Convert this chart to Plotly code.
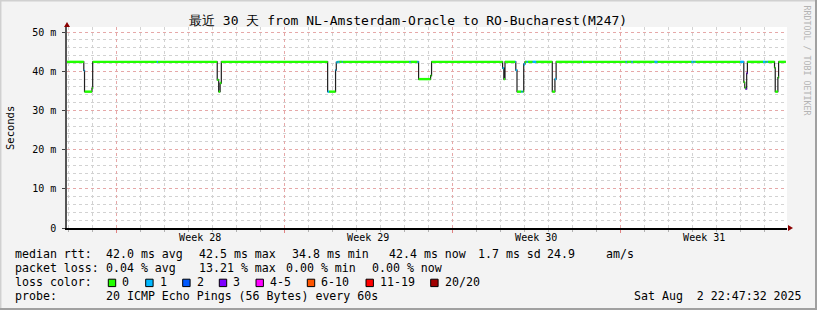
import plotly.graph_objects as go

# ---------------- data ----------------
# time in days since start of the 30-day window, median rtt (ms), lost pings of 20
t_days = [0.00, 0.70, 0.73, 1.04, 1.07, 3.74, 3.79, 6.26, 6.32, 6.38, 6.43,
          10.86, 10.92, 11.19, 11.22, 11.27, 11.30, 11.35, 11.45, 11.48,
          14.27, 14.31, 14.60, 14.65, 15.15, 15.19,
          18.15, 18.20, 18.25, 18.67, 18.70, 18.75, 18.93, 18.98, 19.03, 19.08,
          19.15, 19.20, 19.40, 19.55, 20.22, 20.33, 20.38,
          21.46, 21.50, 23.28, 23.32, 23.52, 23.57, 24.48, 24.60,
          26.02, 26.10, 26.14, 26.18, 28.05, 28.20, 28.24, 28.28, 28.32, 28.35,
          29.00, 29.10, 29.15, 29.20, 29.48, 29.51, 29.62, 29.65]
median_ms = [42.4, 40.2, 34.8, 35.7, 42.4, 42.4, 42.4, 37.8, 34.8, 37.0, 42.4,
             34.8, 34.8, 40.3, 42.3, 42.4, 42.4, 42.4, 42.4, 42.4,
             42.4, 42.4, 42.4, 38.0, 38.9, 42.4,
             40.8, 38.0, 42.4, 42.4, 40.3, 34.8, 34.8, 34.8, 41.8, 42.4,
             42.4, 42.4, 42.4, 42.4, 34.8, 38.0, 42.4,
             42.4, 42.4, 42.4, 42.4, 42.4, 42.4, 42.4, 42.4,
             42.4, 42.4, 42.4, 42.4, 42.4, 37.2, 35.8, 35.5, 39.5, 42.4,
             42.4, 42.4, 42.4, 42.4, 40.9, 34.8, 38.4, 42.4]
loss_pings = [0, 1, 0, 0, 0, 1, 0, 0, 0, 0, 0,
              1, 0, 1, 1, 0, 1, 0, 1, 0,
              1, 0, 1, 0, 0, 0,
              1, 0, 0, 1, 1, 0, 1, 0, 1, 0,
              1, 0, 1, 0, 0, 1, 0,
              1, 0, 1, 0, 1, 0, 1, 0,
              1, 0, 1, 0, 1, 0, 0, 3, 3, 0,
              1, 0, 1, 0, 0, 0, 0, 0]
t_end = 29.95

loss_labels = ["0", "1", "2", "3", "4-5", "6-10", "11-19", "20/20"]
loss_min = [0, 1, 2, 3, 4, 6, 11, 20]
loss_colors = ["#22ff00", "#00b8ff", "#0059ff", "#7e00ff", "#ff00ff", "#ff5500", "#ff0000", "#a00000"]

week_bounds = [2.05, 9.05, 16.05, 23.05]
week_centers = [5.55, 12.55, 19.55, 26.55]
week_labels = ["Week 28", "Week 29", "Week 30", "Week 31"]
y_ticks = [0, 10, 20, 30, 40, 50]
y_tick_text = ["0", "10 m", "20 m", "30 m", "40 m", "50 m"]

title_text = "最近 30 天 from NL-Amsterdam-Oracle to RO-Bucharest(M247)"
stats_rtt = ["median rtt:", "42.0 ms avg", "42.5 ms max", "34.8 ms min", "42.4 ms now", "1.7 ms sd", "24.9", "am/s"]
stats_loss = ["packet loss:", "0.04 % avg", "13.21 % max", "0.00 % min", "0.00 % now"]
probe_text = ["probe:", "20 ICMP Echo Pings (56 Bytes) every 60s"]
date_text = "Sat Aug  2 22:47:32 2025"

# ---------------- layout geometry (pixels) ----------------
W, H = 817, 310
L, R, T, B = 67, 30, 27, 82
PW, PH = W - L - R, H - T - B
MONO = "DejaVu Sans Mono"
PAD = 3  # annotation internal padding


def px(x):
    return (x - L) / PW


def py(y):
    return (H - B - y) / PH


def color_for(loss):
    idx = 0
    for i, m in enumerate(loss_min):
        if loss >= m:
            idx = i
    return loss_colors[idx]


fig = go.Figure()

# black step line (vertical transitions)
fig.add_trace(go.Scatter(
    x=t_days + [t_end], y=median_ms + [median_ms[-1]], mode="lines",
    line=dict(color="#202020", width=1.2, shape="hv"), hoverinfo="skip", showlegend=False))

# loss-coloured horizontal segments
t_next = t_days[1:] + [t_end]
groups = {}
for t0, t1, v, lo in zip(t_days, t_next, median_ms, loss_pings):
    c = color_for(lo)
    gx, gy = groups.setdefault(c, ([], []))
    gx += [t0, t1, None]
    gy += [v, v, None]
for c, (gx, gy) in groups.items():
    fig.add_trace(go.Scatter(x=gx, y=gy, mode="lines", line=dict(color=c, width=2.4),
                             hoverinfo="skip", showlegend=False))

# dummy trace for the label axis
fig.add_trace(go.Scatter(x=[None], y=[None], xaxis="x2", showlegend=False, hoverinfo="skip"))

major_grid = "#e6a8a8"
minor_grid = "#d2d2d2"

fig.update_layout(
    width=W, height=H, margin=dict(l=L, r=R, t=T, b=B),
    paper_bgcolor="#f3f3f3", plot_bgcolor="#ffffff",
    font=dict(family=MONO, size=10, color="#000000"),
    xaxis=dict(range=[0, 30], tickvals=week_bounds, showticklabels=False,
               showgrid=True, gridcolor=major_grid, griddash="dot", gridwidth=1,
               ticks="outside", ticklen=3, tickcolor="#e08080",
               minor=dict(tick0=0.05, dtick=1, showgrid=True, gridcolor=minor_grid,
                          griddash="dot", ticks="outside", ticklen=2, tickcolor="#b0b0b0"),
               showline=True, linecolor="#000000", linewidth=1.5, zeroline=False, fixedrange=True),
    xaxis2=dict(range=[0, 30], overlaying="x", anchor="y", side="bottom",
                tickvals=week_centers, ticktext=week_labels, showgrid=False, ticks="",
                tickfont=dict(family=MONO, size=10), ticklabelstandoff=2, zeroline=False),
    yaxis=dict(range=[0, 51.3], tickvals=y_ticks, ticktext=y_tick_text,
               showgrid=True, gridcolor=major_grid, griddash="dot", gridwidth=1,
               minor=dict(tick0=0, dtick=2, showgrid=True, gridcolor=minor_grid, griddash="dot"),
               ticks="outside", ticklen=3, tickcolor="#404040",
               tickfont=dict(family=MONO, size=10), ticklabelstandoff=4,
               showline=True, linecolor="#555555", linewidth=1.5, zeroline=False, fixedrange=True),
)

ann = []
ann.append(dict(text=title_text, x=px(408), y=py(21), xref="paper", yref="paper",
                xanchor="center", yanchor="middle", showarrow=False,
                font=dict(family=MONO, size=13, color="#000000")))
ann.append(dict(text="Seconds", x=px(10), y=py(128), xref="paper", yref="paper",
                xanchor="center", yanchor="middle", showarrow=False, textangle=-90,
                font=dict(family=MONO, size=10.5, color="#000000")))
ann.append(dict(text="RRDTOOL / TOBI OETIKER", x=px(806.5), y=py(60), xref="paper", yref="paper",
                xanchor="center", yanchor="middle", showarrow=False, textangle=90,
                font=dict(family=MONO, size=8.3, color="#b4b4b4")))

LF = dict(family=MONO, size=11.6, color="#000000")


def put(text, x, y, anchor="left"):
    xx = x - PAD if anchor == "left" else x + PAD
    ann.append(dict(text=text, x=px(xx), y=py(y), xref="paper", yref="paper",
                    xanchor=anchor, yanchor="middle", showarrow=False, font=LF))


for s, x in zip(stats_rtt, [16, 107.3, 200, 293.3, 390, 479.3, 547.7, 607.3]):
    put(s, x, 254.3)
for s, x in zip(stats_loss, [16, 107.3, 200, 286.7, 372.7]):
    put(s, x, 268.3)
put("loss color:", 16, 282.3)
shapes = []
for lab, c, x in zip(loss_labels, loss_colors, [108.3, 145.7, 182.7, 219.3, 256, 307.3, 366, 430.7]):
    shapes.append(dict(type="rect", xref="paper", yref="paper", x0=px(x), x1=px(x + 7.4),
                       y0=py(286.6), y1=py(279.2), fillcolor=c, line=dict(color="#000000", width=1)))
    put(lab, x + 15, 282.3)
put(probe_text[0], 16, 296.3)
put(probe_text[1], 107.3, 296.3)
put(date_text, 800.5, 296.3, anchor="right")

# axis arrows
shapes.append(dict(type="path", xref="paper", yref="paper", xsizemode="pixel", ysizemode="pixel",
                   xanchor=0, yanchor=py(27), path="M -3,0 L 3,0 L 0,5 Z",
                   fillcolor="#8b0000", line=dict(width=0)))
shapes.append(dict(type="path", xref="paper", yref="paper", xsizemode="pixel", ysizemode="pixel",
                   xanchor=px(788), yanchor=0, path="M 0,-3 L 0,3 L 5,0 Z",
                   fillcolor="#8b0000", line=dict(width=0)))

# image frame
shapes.append(dict(type="line", xref="paper", yref="paper", x0=px(0), x1=px(W), y0=py(0.7), y1=py(0.7),
                   line=dict(color="#d0d0d0", width=1.5)))
shapes.append(dict(type="line", xref="paper", yref="paper", x0=px(0.7), x1=px(0.7), y0=py(0), y1=py(H),
                   line=dict(color="#d0d0d0", width=1.5)))
shapes.append(dict(type="line", xref="paper", yref="paper", x0=px(0), x1=px(W), y0=py(H - 1), y1=py(H - 1),
                   line=dict(color="#a0a0a0", width=2)))
shapes.append(dict(type="line", xref="paper", yref="paper", x0=px(W - 1), x1=px(W - 1), y0=py(0), y1=py(H),
                   line=dict(color="#a0a0a0", width=2)))

fig.update_layout(annotations=ann, shapes=shapes)
fig.write_html("out.html", config={"displayModeBar": False})
